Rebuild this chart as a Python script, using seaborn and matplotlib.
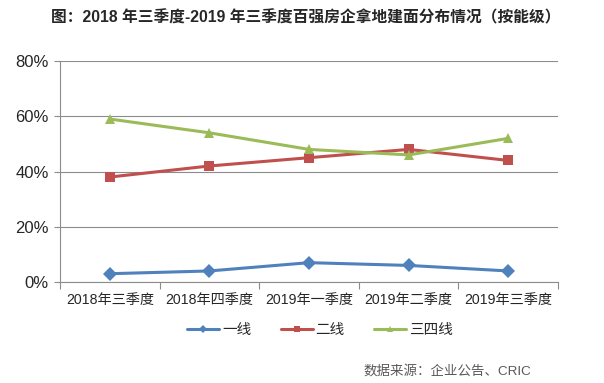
import matplotlib
matplotlib.use("Agg")
import matplotlib.pyplot as plt
import pandas as pd
import seaborn as sns
from matplotlib.lines import Line2D
from matplotlib.ticker import FixedLocator, PercentFormatter

quarters = ["2018年三季度", "2018年四季度", "2019年一季度", "2019年二季度", "2019年三季度"]
tier1 = [3, 4, 7, 6, 4]
tier2 = [38, 42, 45, 48, 44]
tier34 = [59, 54, 48, 46, 52]
series_names = ["一线", "二线", "三四线"]
colors = ["#4F81BD", "#C0504D", "#9BBB59"]
markers = ["D", "s", "^"]

sns.set_style("white")
plt.rcParams["font.family"] = ["Liberation Sans", "Noto Sans CJK SC", "DejaVu Sans"]

df = pd.DataFrame({
    "pos": list(range(len(quarters))) * 3,
    "value": tier1 + tier2 + tier34,
    "series": [s for s in series_names for _ in quarters],
})

fig = plt.figure(figsize=(6.04, 3.83), dpi=100)
ax = fig.add_axes([0.0993, 0.2637, 0.8247, 0.577])

sns.lineplot(
    data=df, x="pos", y="value", hue="series", style="series",
    hue_order=series_names, style_order=series_names,
    palette=dict(zip(series_names, colors)),
    markers=dict(zip(series_names, markers)), dashes=False,
    linewidth=2.2, markersize=7, markeredgewidth=0, legend=False, ax=ax,
)

ax.set_xlim(-0.5, len(quarters) - 0.5)
ax.set_ylim(0, 80)
ax.set_yticks([0, 20, 40, 60, 80])
ax.yaxis.set_major_formatter(PercentFormatter(decimals=0))
ax.set_xticks(range(len(quarters)))
ax.set_xticklabels(quarters, fontsize=10.2)
ax.xaxis.set_minor_locator(FixedLocator([i - 0.5 for i in range(len(quarters) + 1)]))
ax.tick_params(axis="x", which="major", length=0, pad=8)
ax.tick_params(axis="x", which="minor", length=5, color="#8c8c8c", width=0.8, direction="out", bottom=True)
ax.tick_params(axis="y", length=4, color="#8c8c8c", width=0.8, direction="out", left=True, labelsize=12, pad=4)
ax.set_xlabel("")
ax.set_ylabel("")
ax.grid(axis="y", color="#8c8c8c", linewidth=0.8)
ax.set_axisbelow(True)
for side in ["top", "right"]:
    ax.spines[side].set_visible(False)
for side in ["left", "bottom"]:
    ax.spines[side].set_color("#8c8c8c")
    ax.spines[side].set_linewidth(0.8)

handles = [
    Line2D([], [], color=c, marker=m, markersize=4, linewidth=2.2, markeredgewidth=0)
    for c, m in zip(colors, markers)
]
fig.legend(handles, series_names, loc="center", bbox_to_anchor=(0.53, 0.138), ncol=3,
           frameon=False, fontsize=10.5, handlelength=2.2, handletextpad=0.2, columnspacing=2.0)

fig.text(0.507, 0.955, "图：2018 年三季度-2019 年三季度百强房企拿地建面分布情况（按能级）",
         ha="center", va="center", fontsize=11.3, fontweight="bold")
fig.text(0.601, 0.03, "数据来源：企业公告、CRIC", ha="left", va="center",
         fontsize=9.7, color="#595959")

fig.savefig("out.png", dpi=100)
